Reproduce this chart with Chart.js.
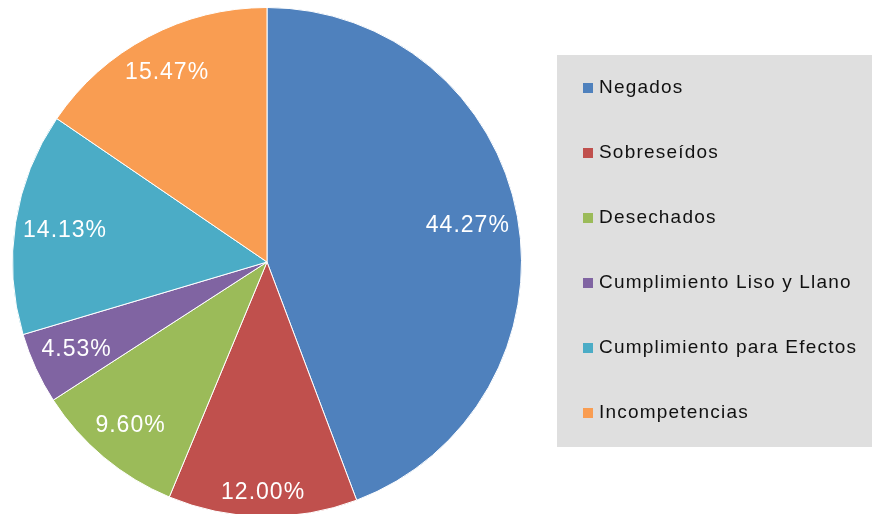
<!DOCTYPE html>
<html>
<head>
<meta charset="utf-8">
<script src="https://cdn.jsdelivr.net/npm/chart.js@4/dist/chart.umd.min.js"></script>
<style>
  html, body { margin: 0; padding: 0; background: #fff; overflow: hidden; }
  #wrap { width: 872px; height: 524px; }
</style>
</head>
<body>
<div id="wrap"><canvas id="myChart" width="872" height="524"></canvas></div>
<script>
const categories = ['Negados', 'Sobreseídos', 'Desechados', 'Cumplimiento Liso y Llano', 'Cumplimiento para Efectos', 'Incompetencias'];
const shares = [44.27, 12.00, 9.60, 4.53, 14.13, 15.47];
const sliceColors = ['#4f81bd', '#c0504d', '#9bbb59', '#8064a2', '#4bacc6', '#f99d52'];

// percentage labels placed just inside the rim, like Excel "inside end"
const sliceLabels = {
  id: 'sliceLabels',
  afterDatasetsDraw(chart) {
    const ctx = chart.ctx;
    const meta = chart.getDatasetMeta(0);
    ctx.save();
    ctx.font = '23px "Liberation Sans", Arial, sans-serif';
    ctx.letterSpacing = '1px';
    ctx.fillStyle = '#ffffff';
    ctx.textAlign = 'center';
    ctx.textBaseline = 'middle';
    meta.data.forEach((arc, i) => {
      const text = shares[i].toFixed(2) + '%';
      const w = ctx.measureText(text).width;
      const h = 34;
      const mid = (arc.startAngle + arc.endAngle) / 2;
      const cx = Math.cos(mid), cy = Math.sin(mid);
      const d = arc.outerRadius - 6 - (Math.abs(cx) * w / 2 + Math.abs(cy) * h / 2);
      ctx.fillText(text, arc.x + cx * d, arc.y + cy * d);
    });
    ctx.restore();
  }
};

// grey legend panel on the right
const sideLegend = {
  id: 'sideLegend',
  afterDraw(chart) {
    const ctx = chart.ctx;
    const ds = chart.data.datasets[0];
    ctx.save();
    ctx.fillStyle = '#dfdfdf';
    ctx.fillRect(557, 55, 315, 392);
    ctx.font = '19px "Liberation Sans", Arial, sans-serif';
    ctx.letterSpacing = '1.2px';
    ctx.textBaseline = 'middle';
    ctx.textAlign = 'left';
    chart.data.labels.forEach((label, i) => {
      const y = 88 + i * 65;
      ctx.fillStyle = ds.backgroundColor[i];
      ctx.fillRect(583, y - 5, 10, 10);
      ctx.fillStyle = '#111111';
      ctx.fillText(label, 599, y);
    });
    ctx.restore();
  }
};

const ctx = document.getElementById('myChart').getContext('2d');
const myChart = new Chart(ctx, {
  type: 'pie',
  data: {
    labels: categories,
    datasets: [{
      data: shares,
      backgroundColor: sliceColors,
      borderColor: '#ffffff',
      borderWidth: 1
    }]
  },
  options: {
    responsive: false,
    animation: false,
    devicePixelRatio: 1,
    layout: { padding: { left: 12, right: 350, top: 7, bottom: 7 } },
    plugins: {
      legend: { display: false },
      tooltip: { enabled: false }
    }
  },
  plugins: [sliceLabels, sideLegend]
});
</script>
</body>
</html>
